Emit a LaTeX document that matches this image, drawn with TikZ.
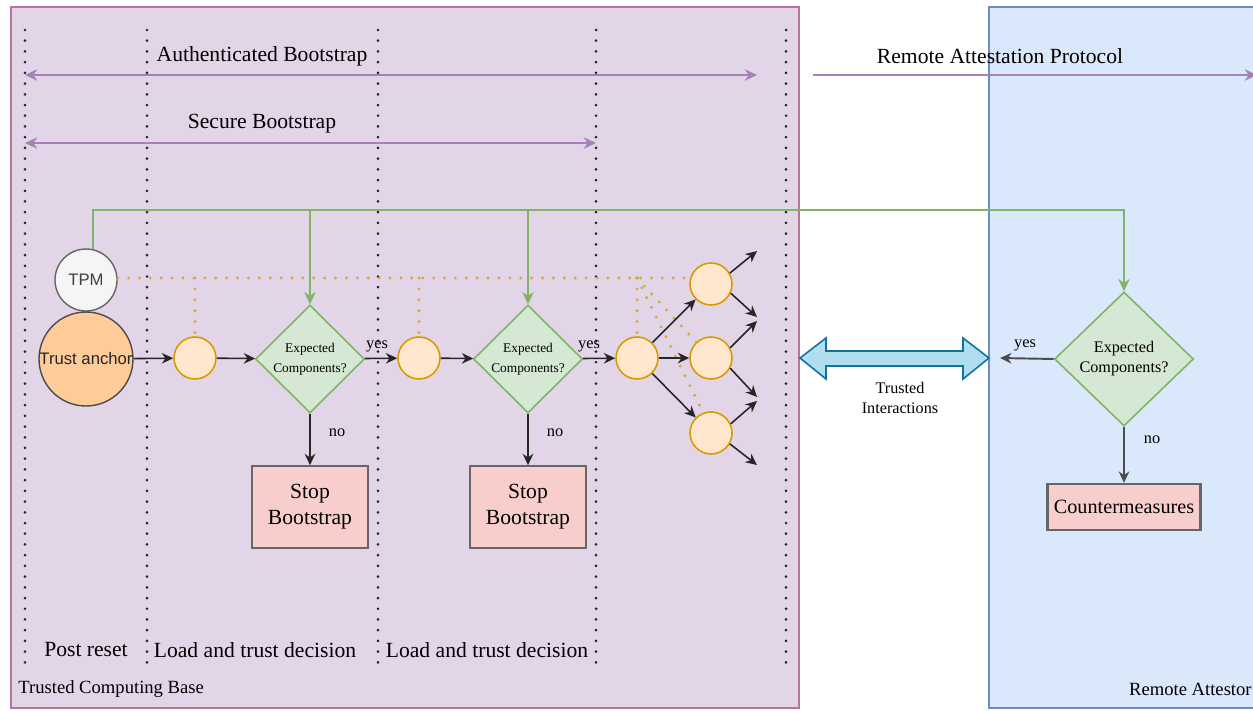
\documentclass[tikz,border=0pt]{standalone}
\usepackage{fontspec}
\setmainfont{Liberation Serif}
\newfontfamily\arialf{Liberation Sans}
\usetikzlibrary{shapes.geometric,arrows.meta,calc}
\definecolor{tcbfill}{HTML}{E1D5E7}
\definecolor{tcbdraw}{HTML}{B5739D}
\definecolor{rafill}{HTML}{DAE8FC}
\definecolor{radraw}{HTML}{6C8EBF}
\definecolor{gfill}{HTML}{D5E8D4}
\definecolor{gdraw}{HTML}{82B366}
\definecolor{ofill}{HTML}{FFE6CC}
\definecolor{odraw}{HTML}{D79B00}
\definecolor{odot}{HTML}{DCA530}
\definecolor{tafill}{HTML}{FFCC99}
\definecolor{rfill}{HTML}{F8CECC}
\definecolor{pline}{HTML}{A680B8}
\definecolor{bfill}{HTML}{B1DDF0}
\definecolor{bdraw}{HTML}{10739E}
\definecolor{grayd}{HTML}{666666}
\begin{document}
\begin{tikzpicture}[x=0.02cm,y=-0.02cm,
  txt/.style={font=\fontsize{12.3}{14.7}\selectfont, inner sep=0pt, align=center},
  smalltxt/.style={font=\fontsize{9.3}{11}\selectfont, inner sep=0pt, align=center},
  basetxt/.style={font=\fontsize{10.6}{12}\selectfont, inner sep=0pt},
  sepline/.style={line width=1.7pt, line cap=round, dash pattern=on 0pt off 6.1pt, black!85},
  odotted/.style={line width=1.8pt, line cap=round, dash pattern=on 0pt off 6.2pt, odot},
  parr/.style={draw=pline, line width=0.9pt, {Stealth[length=7pt,width=6.5pt]}-{Stealth[length=7pt,width=6.5pt]}},
  parrone/.style={draw=pline, line width=0.9pt, -{Stealth[length=7pt,width=6.5pt]}},
  garr/.style={draw=gdraw, line width=0.8pt, -{Stealth[length=7pt,width=6.5pt]}},
  karr/.style={draw=black!85, line width=0.9pt, -{Stealth[length=6.5pt,width=6pt]}},
  smallcirc/.style={circle, draw=odraw, fill=ofill, line width=0.9pt, minimum size=0.84cm, inner sep=0pt},
  decision/.style={diamond, draw=gdraw, fill=gfill, line width=0.9pt, inner sep=0pt},
  stopbox/.style={rectangle, draw=grayd, fill=rfill, line width=0.9pt, inner sep=0pt, align=center},
]
\useasboundingbox (0,0) rectangle (1253,710);
% containers
\fill[white] (0,0) rectangle (1253,710);
\draw[draw=tcbdraw, fill=tcbfill, line width=0.7pt] (11,7) rectangle (799,708);
\draw[draw=radraw, fill=rafill, line width=0.7pt] (989,7) rectangle (1265,708);
% phase separators
\foreach \xx in {25,147,378,596,786} \draw[sepline] (\xx,30) -- (\xx,670);
% top arrows
\coordinate (ab1) at (25,75); \coordinate (ab2) at (757,75);
\coordinate (sb1) at (25,143); \coordinate (sb2) at (596,143);
\coordinate (rp1) at (813,75); \coordinate (rp2) at (1257,75);
\draw[parr] (ab1) -- (ab2);
\draw[parr] (sb1) -- (sb2);
\draw[parrone] (rp1) -- (rp2);
\node[txt] (tab) at (262,56) {Authenticated Bootstrap};
\node[txt] (tsb) at (262,124) {Secure Bootstrap};
\node[txt] (trp) at (1000,56) {Remote Attestation Protocol};
% nodes
\node[circle, draw=grayd, fill=white!96!black, line width=0.8pt, minimum size=1.24cm, inner sep=0pt, font=\arialf\fontsize{9.5}{10}\selectfont, text=black!75] (tpm) at (86,280) {TPM};
\node[circle, draw=black!70, fill=tafill, line width=0.8pt, minimum size=1.88cm, inner sep=0pt, font=\arialf\fontsize{9.5}{10}\selectfont, text=black!85] (ta) at (86,359) {Trust anchor};
\node[smallcirc] (c1) at (195,358) {};
\node[decision, minimum width=2.18cm, minimum height=2.16cm, label={[font=\fontsize{7.6}{11.3}\selectfont, align=center]center:Expected\\Components?}] (d1) at (310,359) {};
\node[smallcirc] (c2) at (419,358) {};
\node[decision, minimum width=2.18cm, minimum height=2.16cm, label={[font=\fontsize{7.6}{11.3}\selectfont, align=center]center:Expected\\Components?}] (d2) at (528,359) {};
\node[smallcirc] (c3) at (637,358) {};
\node[smallcirc] (c4) at (711,284) {};
\node[smallcirc] (c5) at (711,358) {};
\node[smallcirc] (c6) at (711,433) {};
\node[stopbox, minimum width=2.32cm, minimum height=1.64cm, font=\fontsize{12.3}{14.8}\selectfont] (s1) at (310,507) {Stop\\Bootstrap};
\node[stopbox, minimum width=2.32cm, minimum height=1.64cm, font=\fontsize{12.3}{14.8}\selectfont] (s2) at (528,507) {Stop\\Bootstrap};
\node[decision, minimum width=2.78cm, minimum height=2.68cm, label={[font=\fontsize{9.2}{11.3}\selectfont, align=center]center:Expected\\Components?}] (d3) at (1124,359) {};
\node[stopbox, minimum width=3.06cm, minimum height=0.92cm, line width=1.3pt, font=\fontsize{11.5}{13}\selectfont] (cm) at (1124,507) {Countermeasures};
% trusted interactions double arrow
\filldraw[fill=bfill, draw=bdraw, line width=0.9pt] (800,358) -- (826,338) -- (826,351) -- (963,351) -- (963,338) -- (989,358) -- (963,379) -- (963,366) -- (826,366) -- (826,379) -- cycle;
\node[smalltxt, font=\fontsize{9.2}{11.8}\selectfont] (ti) at (900,398) {Trusted\\Interactions};
% green measurement lines
\coordinate (gy) at (0,210);
\draw[garr] (tpm.77) |- (d3.north |- gy) -- (d3.north);
\draw[garr] (d1.north |- gy) -- (d1.north);
\draw[garr] (d2.north |- gy) -- (d2.north);
% orange dotted lines
\coordinate (oy) at (0,278);
\draw[odotted] (tpm.east |- oy) -- (c4.west |- oy);
\draw[odotted] (c1.north |- oy) -- (c1.north);
\draw[odotted] (c2.north |- oy) -- (c2.north);
\draw[odotted] (c3.north |- oy) -- (c3.north);
\draw[odotted] (c3.north |- oy) -- (c5.133);
\draw[odotted] (c3.north |- oy) -- (c6.111);
% flow arrows
\draw[karr] (ta) -- (c1);
\draw[karr] (c1) -- (d1);
\draw[karr] (d1) -- (c2);
\draw[karr] (c2) -- (d2);
\draw[karr] (d2) -- (c3);
\draw[karr] (d1) -- (s1);
\draw[karr] (d2) -- (s2);
\draw[karr] (c3) -- (c4);
\draw[karr] (c3) -- (c5);
\draw[karr] (c3) -- (c6);
\coordinate (e1) at (757,251);
\coordinate (e2) at (757,317);
\coordinate (e3) at (757,321);
\coordinate (e4) at (757,397);
\coordinate (e5) at (757,401);
\coordinate (e6) at (757,465);
\draw[karr] (c4.30) -- (e1);
\draw[karr] (c4.-25) -- (e2);
\draw[karr] (c5.28) -- (e3);
\draw[karr] (c5.-28) -- (e4);
\draw[karr] (c6.25) -- (e5);
\draw[karr] (c6.-30) -- (e6);
\coordinate (yend) at (1000,358);
\draw[karr, draw=black!70, line width=1.1pt] (d3.west) -- (yend);
\draw[karr, draw=black!70, line width=1.1pt] (d3.south) -- (cm.north);
% small labels
\node[smalltxt] (y1) at (377,346) {yes};
\node[smalltxt] (y2) at (589,346) {yes};
\node[smalltxt] (y3) at (1025,345) {yes};
\node[smalltxt] (n1) at (337,433) {no};
\node[smalltxt] (n2) at (555,433) {no};
\node[smalltxt] (n3) at (1152,440) {no};
% phase labels
\node[txt] (pr) at (86,650) {Post reset};
\node[txt] (lt1) at (255,650) {Load and trust decision};
\node[txt] (lt2) at (487,650) {Load and trust decision};
\node[basetxt, anchor=west] (tcb) at (18,689) {Trusted Computing Base};
\node[basetxt, anchor=east] (rat) at (1252,689) {Remote Attestor};
\end{tikzpicture}
\end{document}
